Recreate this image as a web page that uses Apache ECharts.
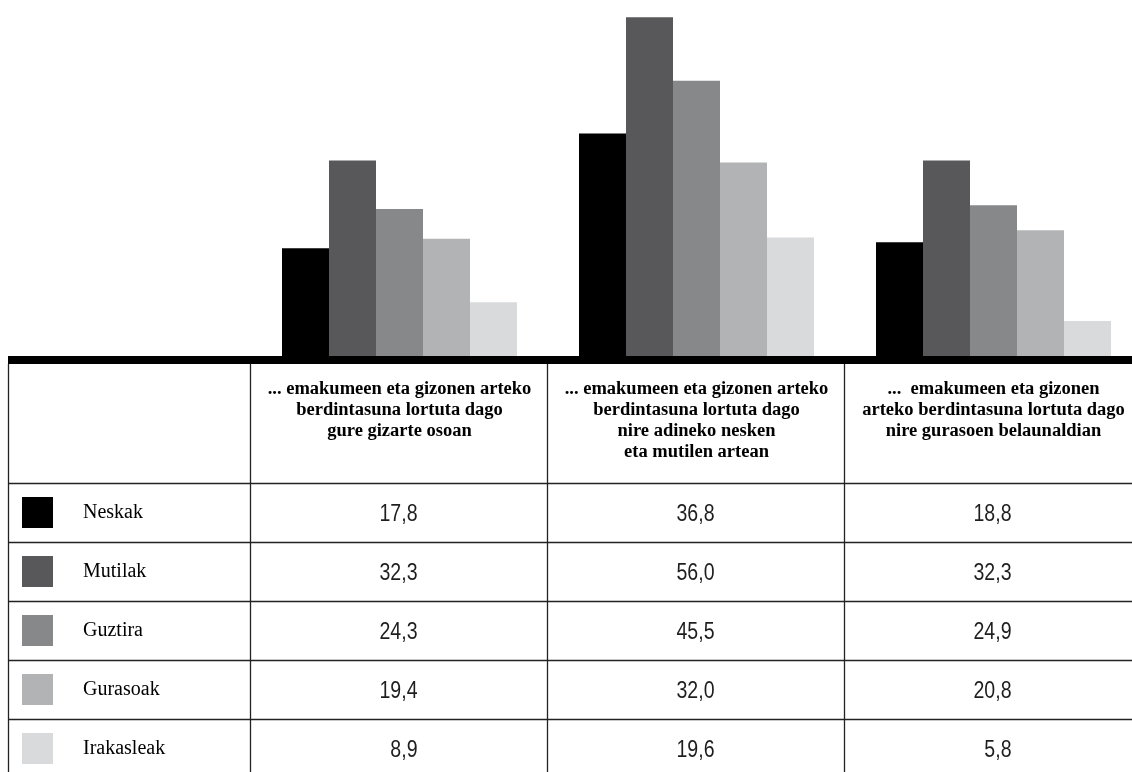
<!DOCTYPE html>
<html>
<head>
<meta charset="utf-8">
<script src="https://cdn.jsdelivr.net/npm/echarts@6/dist/echarts.min.js"></script>
<style>
html,body{margin:0;padding:0;background:#fff;}
#chart{width:1132px;height:772px;}
</style>
</head>
<body>
<div id="chart"></div>
<script>
// ---- data ----
const categories = [
  '... emakumeen eta gizonen arteko\nberdintasuna lortuta dago\ngure gizarte osoan',
  '... emakumeen eta gizonen arteko\nberdintasuna lortuta dago\nnire adineko nesken\neta mutilen artean',
  '...  emakumeen eta gizonen\narteko berdintasuna lortuta dago\nnire gurasoen belaunaldian'
];
const seriesNames = ['Neskak', 'Mutilak', 'Guztira', 'Gurasoak', 'Irakasleak'];
const neskak     = [17.8, 36.8, 18.8];
const mutilak    = [32.3, 56.0, 32.3];
const guztira    = [24.3, 45.5, 24.9];
const gurasoak   = [19.4, 32.0, 20.8];
const irakasleak = [8.9, 19.6, 5.8];
const seriesData = [neskak, mutilak, guztira, gurasoak, irakasleak];

// ---- styles / layout ----
const colors = ['#000000', '#58585a', '#87888a', '#b2b3b5', '#d9dadc'];
const gridLeft = 251, catW = 297, barBottom = 356;
const yMax = 58.85;
const tableLeft = 8, tableRight = 1132, tableTop = 364, bodyTop = 483, rowH = 59, tableBottom = 772;
const lineColor = '#222';

function fmt(v) { return v.toFixed(1).replace('.', ','); }

const chart = echarts.init(document.getElementById('chart'), null, {renderer: 'canvas'});

const barSeries = seriesNames.map((n, i) => ({
  name: n,
  type: 'bar',
  xAxisIndex: 0,
  yAxisIndex: 0,
  data: seriesData[i],
  barWidth: 47,
  barGap: '0%',
  itemStyle: {color: colors[i]},
  silent: true
}));

const cellData = [];
seriesData.forEach((arr, r) => arr.forEach((v, c) => cellData.push([c, r, v])));

const rich = {
  t: {fontFamily: "'Liberation Serif', 'Times New Roman', serif", fontSize: 20, color: '#000', padding: [0, 0, 0, 30]}
};
colors.forEach((col, i) => {
  rich['s' + i] = {width: 31, height: 31, backgroundColor: col};
});

const graphics = [];
graphics.push({type: 'rect', shape: {x: tableLeft, y: barBottom, width: tableRight - tableLeft, height: 8}, style: {fill: '#000'}, silent: true});
const colXs = [tableLeft + 0.5];
for (let i = 0; i < 3; i++) colXs.push(gridLeft - 1 + i * catW + 0.5);
colXs.forEach(x => graphics.push({type: 'line', shape: {x1: x, y1: tableTop, x2: x, y2: tableBottom}, style: {stroke: lineColor, lineWidth: 1.3}, silent: true}));
for (let i = 0; i < 5; i++) {
  const y = bodyTop + i * rowH + 0.5;
  graphics.push({type: 'line', shape: {x1: tableLeft, y1: y, x2: tableRight, y2: y}, style: {stroke: lineColor, lineWidth: 1.3}, silent: true});
}

const option = {
  backgroundColor: '#fff',
  animation: false,
  grid: [
    {left: gridLeft, width: catW * 3, top: 0, height: barBottom, outerBoundsMode: 'none', containLabel: false},
    {left: gridLeft, width: catW * 3, top: bodyTop, height: rowH * 5, outerBoundsMode: 'none', containLabel: false}
  ],
  xAxis: [
    {
      type: 'category', gridIndex: 0, data: categories,
      axisLine: {show: false}, axisTick: {show: false},
      axisLabel: {
        interval: 0, margin: 23,
        fontFamily: "'Liberation Serif', 'Times New Roman', serif",
        fontWeight: 'bold', fontSize: 18.5, lineHeight: 21, color: '#000', align: 'center'
      }
    },
    {
      type: 'category', gridIndex: 1, data: categories,
      axisLine: {show: false}, axisTick: {show: false}, axisLabel: {show: false}, splitLine: {show: false}
    }
  ],
  yAxis: [
    {type: 'value', gridIndex: 0, min: 0, max: yMax, show: false},
    {
      type: 'category', gridIndex: 1, data: seriesNames, inverse: true,
      axisLine: {show: false}, axisTick: {show: false}, splitLine: {show: false},
      axisLabel: {
        interval: 0, align: 'left', margin: gridLeft - 22,
        formatter: (name, idx) => '{s' + idx + '|}{t|' + name + '}',
        rich: rich
      }
    }
  ],
  series: barSeries.concat([{
    type: 'custom',
    xAxisIndex: 1, yAxisIndex: 1,
    data: cellData,
    encode: {x: 0, y: 1},
    silent: true,
    renderItem: (params, api) => {
      const pt = api.coord([api.value(0), api.value(1)]);
      return {
        type: 'text',
        x: pt[0] + 18,
        y: pt[1] + 2.5,
        scaleX: 0.85,
        style: {
          text: fmt(api.value(2)),
          align: 'right',
          verticalAlign: 'middle',
          fontFamily: "'Liberation Sans', Arial, sans-serif",
          fontSize: 23,
          fill: '#1e1e1e'
        }
      };
    }
  }]),
  graphic: graphics
};
chart.setOption(option);
</script>
</body>
</html>
